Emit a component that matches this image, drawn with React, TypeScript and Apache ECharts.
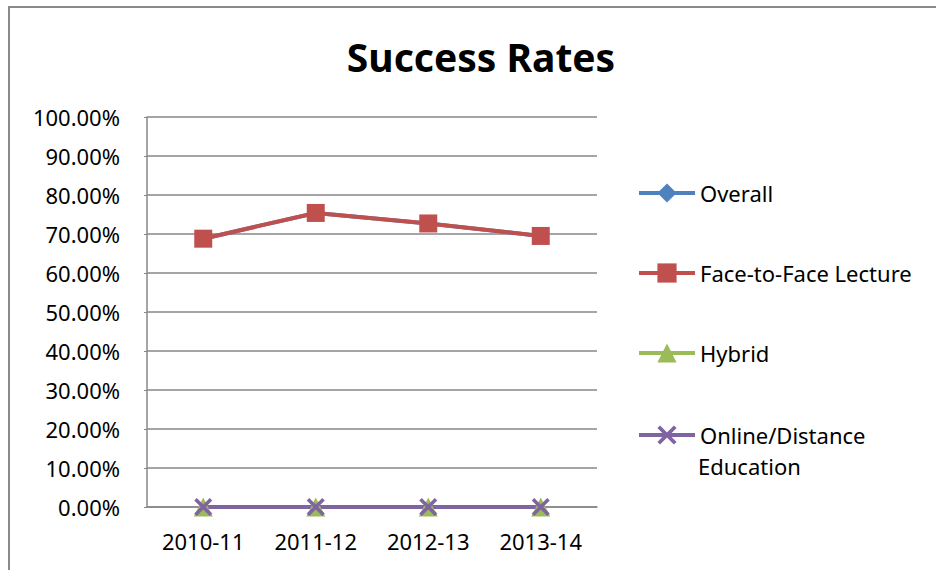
import React, { useEffect, useRef } from "react";
import * as echarts from "echarts";

const categories = ["2010-11", "2011-12", "2012-13", "2013-14"];
const overall = [0.688, 0.754, 0.727, 0.695];
const faceToFace = [0.688, 0.754, 0.727, 0.695];
const hybrid = [0, 0, 0, 0];
const online = [0, 0, 0, 0];
const seriesNames = ["Overall", "Face-to-Face Lecture", "Hybrid", "Online/Distance Education"];

const FONT = "'Noto Sans', sans-serif";
const XMARK = "path://M0,1.4L1.4,0L10,8.6L8.6,10ZM8.6,0L10,1.4L1.4,10L0,8.6Z";

export default function App() {
  const ref = useRef<HTMLDivElement>(null);
  useEffect(() => {
    document.body.style.margin = "0";
    const chart = echarts.init(ref.current!, null, { renderer: "svg" });
    const legendBase = (name: string, top: number, extra: any = {}) => ({
      orient: "vertical",
      left: 637,
      top,
      padding: 0,
      data: [name],
      itemWidth: 56,
      itemHeight: 24,
      itemGap: 0,
      selectedMode: false,
      lineStyle: { width: 4 },
      textStyle: { fontFamily: FONT, fontSize: 22, color: "#000", lineHeight: 24 },
      ...extra,
    });
    chart.setOption({
      animation: false,
      backgroundColor: "#fff",
      title: {
        text: "Success Rates",
        left: 476,
        textAlign: "center",
        top: 32,
        textStyle: { fontFamily: FONT, fontSize: 39, fontWeight: "bold", color: "#000" },
      },
      graphic: [
        {
          type: "rect",
          shape: { x: 9, y: 7, width: 1000, height: 1000 },
          style: { fill: "none", stroke: "#8a8a8a", lineWidth: 2 },
          silent: true,
        },
        {
          type: "text",
          left: 698,
          top: 455,
          style: { text: "Education", fontFamily: FONT, fontSize: 22, fill: "#000" },
        },
      ],
      legend: [
        legendBase(seriesNames[0], 181),
        legendBase(seriesNames[1], 261),
        legendBase(seriesNames[2], 341),
        legendBase(seriesNames[3], 423, { formatter: () => "Online/Distance" }),
      ],
      grid: { left: 147, right: 339, top: 117, bottom: 63 },
      xAxis: {
        type: "category",
        data: categories,
        boundaryGap: true,
        axisLine: { lineStyle: { color: "#878787", width: 1.5 } },
        axisTick: { show: false },
        axisLabel: { fontFamily: FONT, fontSize: 22, color: "#000", margin: 23 },
      },
      yAxis: {
        type: "value",
        min: 0,
        max: 1,
        interval: 0.1,
        axisLine: { show: true, lineStyle: { color: "#878787", width: 1.5 } },
        axisTick: { show: true, length: 3, lineStyle: { color: "#878787" } },
        splitLine: { lineStyle: { color: "#878787", width: 1.5 } },
        axisLabel: {
          fontFamily: FONT,
          fontSize: 22,
          color: "#000",
          margin: 27,
          formatter: (v: number) => (v * 100).toFixed(2) + "%",
        },
      },
      series: [
        {
          name: seriesNames[0],
          type: "line",
          data: overall,
          symbol: "diamond",
          symbolSize: 14,
          color: "#4F81BD",
          lineStyle: { width: 4, color: "#4F81BD" },
          itemStyle: { color: "#4F81BD" },
        },
        {
          name: seriesNames[1],
          type: "line",
          data: faceToFace,
          symbol: "rect",
          symbolSize: 18,
          color: "#C0504D",
          lineStyle: { width: 4, color: "#C0504D" },
          itemStyle: { color: "#C0504D" },
        },
        {
          name: seriesNames[2],
          type: "line",
          data: hybrid,
          symbol: "triangle",
          symbolSize: 19,
          color: "#9BBB59",
          lineStyle: { width: 4, color: "#9BBB59" },
          itemStyle: { color: "#9BBB59" },
        },
        {
          name: seriesNames[3],
          type: "line",
          data: online,
          symbol: XMARK,
          symbolSize: 18,
          color: "#8064A2",
          lineStyle: { width: 4, color: "#8064A2" },
          itemStyle: { color: "#8064A2" },
        },
      ],
    });
    return () => chart.dispose();
  }, []);
  return <div ref={ref} style={{ width: 936, height: 570 }} />;
}
